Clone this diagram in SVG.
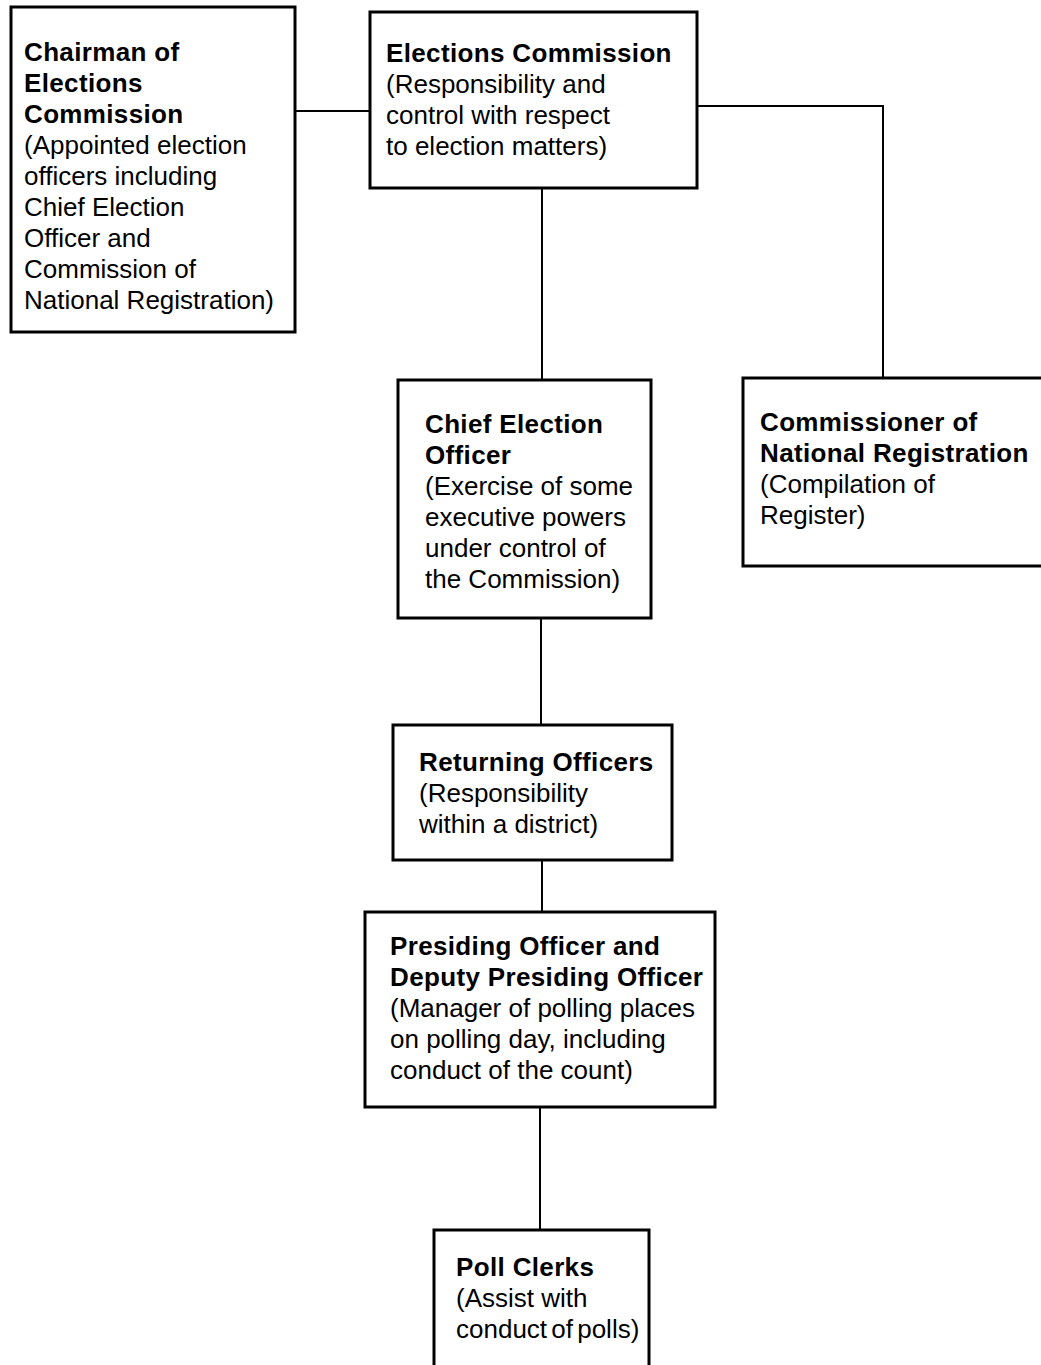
<svg xmlns="http://www.w3.org/2000/svg" width="1041" height="1365" viewBox="0 0 1041 1365">
<style>
.box{fill:#fff;stroke:#000;stroke-width:3}
.c{fill:none;stroke:#000;stroke-width:2}
text{font-family:"Liberation Sans",Arial,sans-serif;font-size:26px;fill:#000}
.b{font-weight:bold;letter-spacing:0.35px}
</style>
<rect width="1041" height="1365" fill="#fff"/>
<g id="connectors">
<path class="c" d="M295 111H370"/>
<path class="c" d="M697 106H883V378"/>
<path class="c" d="M542 188V380"/>
<path class="c" d="M541 618V725"/>
<path class="c" d="M542 860V912"/>
<path class="c" d="M540 1107V1230"/>
</g>
<g id="chairman">
<rect class="box" x="11" y="7" width="284" height="325"/>
<text x="24" y="61" class="b">Chairman of</text>
<text x="24" y="92" class="b">Elections</text>
<text x="24" y="123" class="b">Commission</text>
<text x="24" y="154">(Appointed election</text>
<text x="24" y="185">officers including</text>
<text x="24" y="216">Chief Election</text>
<text x="24" y="247">Officer and</text>
<text x="24" y="278">Commission of</text>
<text x="24" y="309">National Registration)</text>
</g>
<g id="elections-commission">
<rect class="box" x="370" y="12" width="327" height="176"/>
<text x="386" y="62" class="b">Elections Commission</text>
<text x="386" y="93">(Responsibility and</text>
<text x="386" y="124">control with respect</text>
<text x="386" y="155">to election matters)</text>
</g>
<g id="commissioner">
<rect class="box" x="743" y="378" width="310" height="188"/>
<text x="760" y="431" class="b">Commissioner of</text>
<text x="760" y="462" class="b">National Registration</text>
<text x="760" y="493">(Compilation of</text>
<text x="760" y="524">Register)</text>
</g>
<g id="chief-election-officer">
<rect class="box" x="398" y="380" width="253" height="238"/>
<text x="425" y="433" class="b">Chief Election</text>
<text x="425" y="464" class="b">Officer</text>
<text x="425" y="495">(Exercise of some</text>
<text x="425" y="526">executive powers</text>
<text x="425" y="557">under control of</text>
<text x="425" y="588">the Commission)</text>
</g>
<g id="returning-officers">
<rect class="box" x="393" y="725" width="279" height="135"/>
<text x="419" y="771" class="b">Returning Officers</text>
<text x="419" y="802">(Responsibility</text>
<text x="419" y="833">within a district)</text>
</g>
<g id="presiding-officer">
<rect class="box" x="365" y="912" width="350" height="195"/>
<text x="390" y="955" class="b">Presiding Officer and</text>
<text x="390" y="986" class="b">Deputy Presiding Officer</text>
<text x="390" y="1017">(Manager of polling places</text>
<text x="390" y="1048">on polling day, including</text>
<text x="390" y="1079">conduct of the count)</text>
</g>
<g id="poll-clerks">
<rect class="box" x="434" y="1230" width="215" height="150"/>
<text x="456" y="1276" class="b">Poll Clerks</text>
<text x="456" y="1307">(Assist with</text>
<text x="456" y="1338" word-spacing="-3">conduct of polls)</text>
</g>
</svg>
